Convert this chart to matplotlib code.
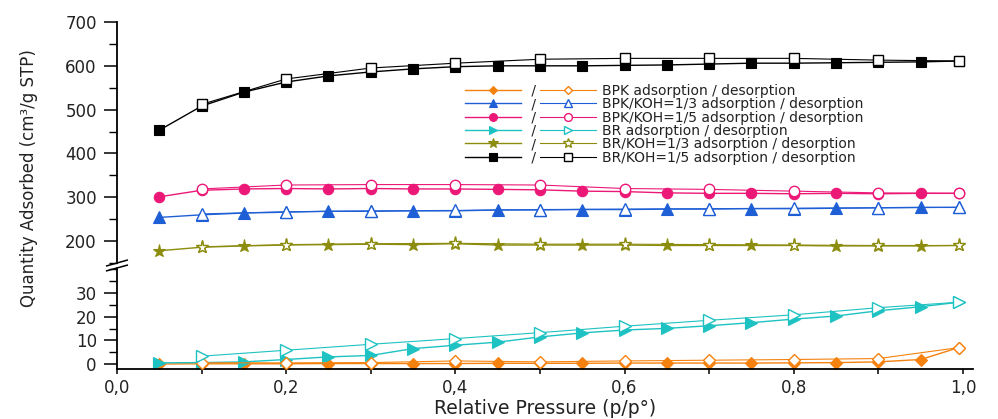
import matplotlib
matplotlib.use("Agg")
import matplotlib.pyplot as plt
from matplotlib.ticker import MultipleLocator, FixedLocator

plt.rcParams['font.family'] = ['DejaVu Sans']

# ---------------- data ----------------
ads_x = [0.05, 0.10, 0.15, 0.20, 0.25, 0.30, 0.35, 0.40, 0.45, 0.50,
         0.55, 0.60, 0.65, 0.70, 0.75, 0.80, 0.85, 0.90, 0.95, 0.995]
des_x = [0.10, 0.20, 0.30, 0.40, 0.50, 0.60, 0.70, 0.80, 0.90, 0.995]

series_names = ["BPK", "BPK/KOH=1/3", "BPK/KOH=1/5", "BR", "BR/KOH=1/3", "BR/KOH=1/5"]

bpk_ads = [0.1, 0.2, 0.2, 0.2, 0.3, 0.3, 0.3, 0.3, 0.4, 0.4,
           0.4, 0.5, 0.5, 0.5, 0.5, 0.6, 0.7, 1.0, 2.0, 7.0]
bpk_des = [0.6, 0.6, 0.7, 1.4, 1.0, 1.4, 1.7, 2.0, 2.4, 7.0]

bpk13_ads = [254, 260, 264, 266, 268, 268, 269, 269, 271, 271,
             272, 272, 273, 273, 274, 274, 275, 276, 277, 277]
bpk13_des = [262, 267, 269, 270, 272, 273, 274, 275, 276, 277]

bpk15_ads = [301, 316, 319, 320, 319, 320, 319, 319, 318, 317,
             314, 313, 310, 309, 309, 308, 309, 308, 309, 309]
bpk15_des = [319, 328, 329, 329, 328, 320, 318, 314, 310, 309]

br_ads = [0.6, 0.7, 1.0, 2.0, 3.1, 3.7, 6.6, 8.0, 9.3, 11.5,
          13.2, 14.4, 15.1, 16.2, 17.5, 19.0, 20.3, 22.5, 24.2, 26.1]
br_des = [3.4, 5.9, 8.4, 10.8, 13.3, 16.0, 18.5, 20.8, 23.8, 26.1]

br13_ads = [178, 186, 189, 191, 192, 193, 192, 194, 191, 191,
            191, 191, 190, 190, 190, 190, 189, 189, 189, 190]
br13_des = [187, 192, 194, 195, 193, 193, 192, 191, 190, 190]

br15_ads = [453, 508, 540, 563, 577, 586, 593, 598, 600, 600,
            600, 601, 602, 604, 606, 606, 607, 608, 609, 611]
br15_des = [512, 570, 595, 606, 615, 617, 617, 617, 613, 611]

ads_values = [bpk_ads, bpk13_ads, bpk15_ads, br_ads, br13_ads, br15_ads]
des_values = [bpk_des, bpk13_des, bpk15_des, br_des, br13_des, br15_des]

x_ticks = [0.0, 0.2, 0.4, 0.6, 0.8, 1.0]
x_tick_labels = ["0,0", "0,2", "0,4", "0,6", "0,8", "1,0"]
top_y_ticks = [200, 300, 400, 500, 600, 700]
bot_y_ticks = [0, 10, 20, 30]

# ---------------- styles ----------------
colors = ['#F5820F', '#1F5FD6', '#EC1877', '#1FC2C2', '#8C8C0E', '#000000']
markers = ['D', '^', 'o', '>', '*', 's']
msizes = [6, 8, 7.5, 8, 9.5, 7]

fig = plt.figure(figsize=(9.98, 4.19), dpi=100)
left, width = 0.1172, 0.8578
ax_top = fig.add_axes([left, 0.3723, width, 0.5752])
ax_bot = fig.add_axes([left, 0.1193, width, 0.2411])

handles_ads, handles_des = [], []
for ax in (ax_top, ax_bot):
    for i, name in enumerate(series_names):
        la, = ax.plot(ads_x, ads_values[i], color=colors[i], lw=1.0,
                      marker=markers[i], ms=msizes[i], mfc=colors[i],
                      mec=colors[i], mew=0.8, zorder=2)
        ld, = ax.plot(des_x, des_values[i], color=colors[i], lw=0.8,
                      marker=markers[i], ms=msizes[i], mfc='white',
                      mec=colors[i], mew=1.0, zorder=3)
        if ax is ax_top:
            handles_ads.append(la)
            handles_des.append(ld)

# limits
ax_top.set_xlim(0, 1.012)
ax_bot.set_xlim(0, 1.012)
ax_top.set_ylim(150, 700)
ax_bot.set_ylim(-2, 40.5)

for ax in (ax_top, ax_bot):
    ax.set_facecolor('white')
    ax.spines['top'].set_visible(False)
    ax.spines['right'].set_visible(False)
    for s in ('left', 'bottom'):
        ax.spines[s].set_linewidth(1.3)
    ax.tick_params(axis='y', which='major', direction='out', length=9.5,
                   width=1.1, labelsize=12, pad=5, labelcolor='#222222')
    ax.tick_params(axis='y', which='minor', direction='out', length=6, width=1.0)

ax_top.spines['bottom'].set_visible(False)
ax_top.tick_params(axis='x', which='both', bottom=False, labelbottom=False)

ax_top.yaxis.set_major_locator(FixedLocator(top_y_ticks))
ax_top.yaxis.set_minor_locator(MultipleLocator(50))
ax_bot.yaxis.set_major_locator(FixedLocator(bot_y_ticks))
ax_bot.yaxis.set_minor_locator(MultipleLocator(5))

ax_bot.set_xticks(x_ticks)
ax_bot.set_xticklabels(x_tick_labels)
ax_bot.xaxis.set_minor_locator(MultipleLocator(0.1))
ax_bot.tick_params(axis='x', which='both', direction='out', length=3.5,
                   width=1.1, labelsize=12, pad=4, labelcolor='#222222')

ax_bot.set_xlabel("Relative Pressure (p/p°)", fontsize=13.5, labelpad=1,
                  color='#222222')
fig.text(0.029, 1 - 178 / 419, "Quantity Adsorbed (cm³/g STP)", rotation=90,
         ha='center', va='center', fontsize=12, color='#222222')

# break marks
d = 0.012
kw = dict(color='black', lw=1.1, clip_on=False)
ax_top.plot([-d, d], [-0.012, 0.012], transform=ax_top.transAxes, **kw)
ax_bot.plot([-d, d], [1 - 0.028, 1 + 0.028], transform=ax_bot.transAxes, **kw)

# legend
leg = fig.legend(handles_ads + handles_des,
                 [" /"] * 6 + [n + " adsorption / desorption" for n in series_names],
                 ncol=2, loc='upper left',
                 bbox_to_anchor=(465 / 998, 1 - 84 / 419),
                 frameon=False, fontsize=10, handlelength=4.0,
                 handletextpad=0.45, columnspacing=0.3, labelspacing=-0.05,
                 borderpad=0, borderaxespad=0, numpoints=1, markerscale=0.75)
for t in leg.get_texts():
    t.set_color('#222222')

fig.savefig("out.png", dpi=100, facecolor='white')
